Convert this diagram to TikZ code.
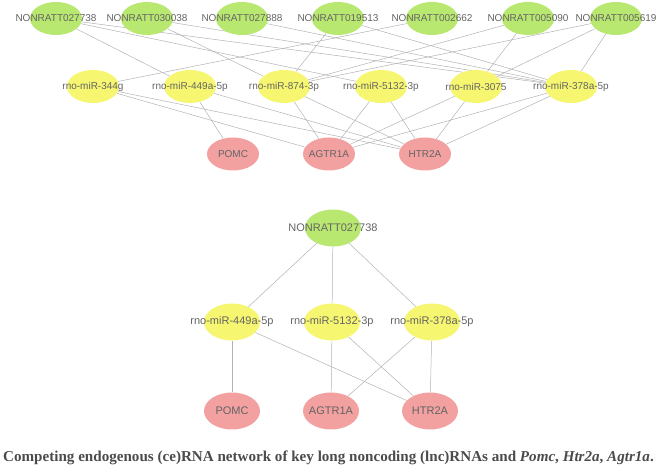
\documentclass[tikz,border=0pt]{standalone}
\usepackage{fontspec}
\setmainfont{Liberation Serif}
\setsansfont{Liberation Sans}
\usetikzlibrary{shapes.geometric,backgrounds}
\definecolor{lncg}{RGB}{184,232,112}
\definecolor{miry}{RGB}{246,246,112}
\definecolor{gener}{RGB}{242,160,160}
\definecolor{edgec}{RGB}{178,178,178}
\definecolor{txt}{RGB}{100,100,100}
\definecolor{captc}{RGB}{75,75,75}
\tikzset{
  ell/.style={ellipse, draw=none, minimum width=52pt, minimum height=33pt, inner sep=0pt},
  bigell/.style={ell, minimum width=56pt, minimum height=37pt},
  lnc/.style={fill=lncg},
  mir/.style={fill=miry},
  gene/.style={fill=gener},
  lab/.style={font=\sffamily\fontsize{10}{11}\selectfont, text=txt, inner sep=0pt},
  biglab/.style={font=\sffamily\fontsize{11}{12}\selectfont, text=txt, inner sep=0pt},
  edge/.style={draw=edgec, line width=0.5pt}
}
\begin{document}
\begin{tikzpicture}[x=1pt,y=-1pt]
\useasboundingbox (0,0) rectangle (657,473);
% top network: lncRNAs
\node[ell,lnc,label={[lab]center:NONRATT027738}] (a1) at (56,18.5) {};
\node[ell,lnc,label={[lab]center:NONRATT030038}] (a2) at (147,18.5) {};
\node[ell,lnc,label={[lab]center:NONRATT027888}] (a3) at (242,18.5) {};
\node[ell,lnc,label={[lab]center:NONRATT019513}] (a4) at (338,18.5) {};
\node[ell,lnc,label={[lab]center:NONRATT002662}] (a5) at (432,18.5) {};
\node[ell,lnc,label={[lab]center:NONRATT005090}] (a6) at (528,18.5) {};
\node[ell,lnc,label={[lab]center:NONRATT005619}] (a7) at (616,18.5) {};
% miRNAs
\node[ell,mir,label={[lab]center:rno-miR-344g}] (m1) at (93,86.5) {};
\node[ell,mir,label={[lab]center:rno-miR-449a-5p}] (m2) at (190,86.5) {};
\node[ell,mir,label={[lab]center:rno-miR-874-3p}] (m3) at (284,86.5) {};
\node[ell,mir,label={[lab]center:rno-miR-5132-3p}] (m4) at (381,86.5) {};
\node[ell,mir,label={[lab]center:rno-miR-3075}] (m5) at (476,86.5) {};
\node[ell,mir,label={[lab]center:rno-miR-378a-5p}] (m6) at (571,86.5) {};
% genes
\node[ell,gene,label={[lab]center:POMC}] (g1) at (233,154) {};
\node[ell,gene,label={[lab]center:AGTR1A}] (g2) at (329,154) {};
\node[ell,gene,label={[lab]center:HTR2A}] (g3) at (425,154) {};
% bottom network
\node[bigell,lnc,label={[biglab]center:NONRATT027738}] (b1) at (333,228) {};
\node[bigell,mir,label={[biglab]center:rno-miR-449a-5p}] (c1) at (232,322) {};
\node[bigell,mir,label={[biglab]center:rno-miR-5132-3p}] (c2) at (332,322) {};
\node[bigell,mir,label={[biglab]center:rno-miR-378a-5p}] (c3) at (432,322) {};
\node[bigell,gene,label={[biglab]center:POMC}] (d1) at (232,411) {};
\node[bigell,gene,label={[biglab]center:AGTR1A}] (d2) at (331,411) {};
\node[bigell,gene,label={[biglab]center:HTR2A}] (d3) at (430,411) {};
% caption
\node[font=\rmfamily\bfseries\fontsize{15.1}{17}\selectfont, text=captc, anchor=base, inner sep=0pt] (cap) at (328.5,462)
  {Competing endogenous (ce)RNA network of key long noncoding (lnc)RNAs and \textit{Pomc}, \textit{Htr2a}, \textit{Agtr1a}.};
\begin{scope}[on background layer]
% lnc - miRNA (top)
\draw[edge] (a1) -- (m2);
\draw[edge] (a1) -- (m4);
\draw[edge] (a1) -- (m6);
\draw[edge] (a2) -- (m3);
\draw[edge] (a2) -- (m6);
\draw[edge] (a3) -- (m6);
\draw[edge] (a4) -- (m3);
\draw[edge] (a4) -- (m6);
\draw[edge] (a5) -- (m1);
\draw[edge] (a6) -- (m3);
\draw[edge] (a6) -- (m5);
\draw[edge] (a7) -- (m3);
\draw[edge] (a7) -- (m5);
\draw[edge] (a7) -- (m6);
% miRNA - gene (top)
\draw[edge] (m1) -- (g2);
\draw[edge] (m1) -- (g3);
\draw[edge] (m2) -- (g1);
\draw[edge] (m2) -- (g3);
\draw[edge] (m3) -- (g2);
\draw[edge] (m3) -- (g3);
\draw[edge] (m4) -- (g2);
\draw[edge] (m4) -- (g3);
\draw[edge] (m5) -- (g2);
\draw[edge] (m5) -- (g3);
\draw[edge] (m6) -- (g2);
\draw[edge] (m6) -- (g3);
% bottom network
\draw[edge] (b1) -- (c1);
\draw[edge] (b1) -- (c2);
\draw[edge] (b1) -- (c3);
\draw[edge] (c1) -- (d1);
\draw[edge] (c1) -- (d3);
\draw[edge] (c2) -- (d2);
\draw[edge] (c2) -- (d3);
\draw[edge] (c3) -- (d2);
\draw[edge] (c3) -- (d3);
\end{scope}
\end{tikzpicture}
\end{document}
